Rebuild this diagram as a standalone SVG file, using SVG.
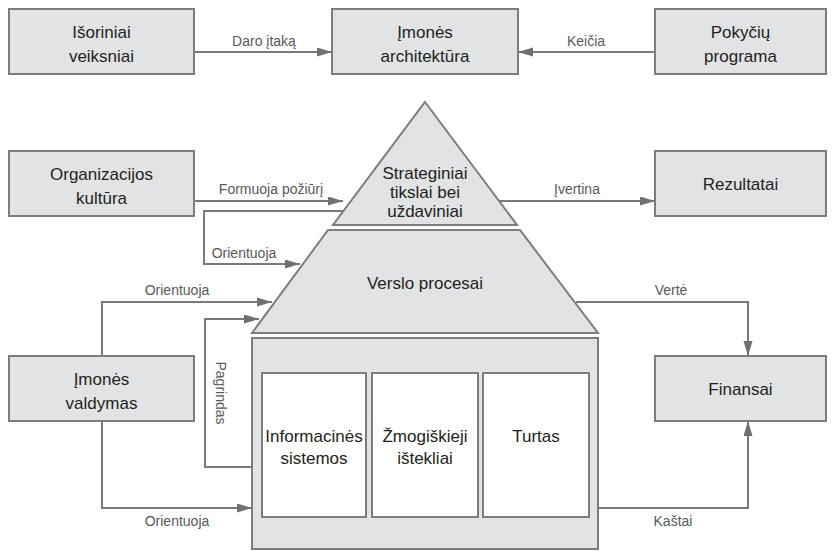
<svg xmlns="http://www.w3.org/2000/svg" width="835" height="551" viewBox="0 0 835 551">
  <style>
    .box { fill: #e2e3e5; stroke: #7d7d7d; stroke-width: 2; }
    .inner { fill: #ffffff; stroke: #7d7d7d; stroke-width: 2; }
    .t { font-family: "Liberation Sans", Arial, sans-serif; font-size: 17px; fill: #231f20; text-anchor: middle; }
    .lbl { font-family: "Liberation Sans", Arial, sans-serif; font-size: 14px; fill: #58595b; text-anchor: middle; }
    .edge { fill: none; stroke: #7a7a7a; stroke-width: 2; marker-end: url(#arrow); }
    .plain { fill: none; stroke: #7a7a7a; stroke-width: 2; }
  </style>
  <defs>
    <marker id="arrow" markerUnits="userSpaceOnUse" markerWidth="16" markerHeight="10" refX="15" refY="4.5" orient="auto">
      <path d="M0,0 L15,4.5 L0,9 z" fill="#6f6f6f"/>
    </marker>
  </defs>
  <rect width="835" height="551" fill="#ffffff"/>

  <!-- connectors -->
  <g id="connectors">
    <path class="edge" d="M194,52 H332"/>
    <path class="edge" d="M655,52 H518"/>
    <path class="edge" d="M194,201 H343"/>
    <path class="plain" d="M499,201 H560"/>
    <path class="edge" d="M560,201 H655"/>
    <path class="edge" d="M345,211 H204 V264 H300"/>
    <path class="edge" d="M102,356 V302 H272"/>
    <path class="edge" d="M252,467 H205 V319 H259"/>
    <path class="edge" d="M102,421 V508 H252"/>
    <path class="edge" d="M576,302 H748 V356"/>
    <path class="edge" d="M598,508 H748 V421"/>
  </g>

  <!-- connector labels -->
  <g id="labels">
    <text class="lbl" x="264" y="46">Daro įtaką</text>
    <text class="lbl" x="586" y="46">Keičia</text>
    <text class="lbl" x="271" y="194">Formuoja požiūrį</text>
    <text class="lbl" x="577" y="194">Įvertina</text>
    <text class="lbl" x="244" y="258">Orientuoja</text>
    <text class="lbl" x="177" y="295">Orientuoja</text>
    <text class="lbl" x="177" y="526">Orientuoja</text>
    <text class="lbl" x="671" y="295">Vertė</text>
    <text class="lbl" x="673" y="526">Kaštai</text>
    <text class="lbl" transform="translate(216,393) rotate(90)">Pagrindas</text>
  </g>

  <g id="isoriniai-veiksniai">
    <rect class="box" x="9" y="9" width="185" height="65"/>
    <text class="t" x="101.5" y="38">Išoriniai</text>
    <text class="t" x="101.5" y="62">veiksniai</text>
  </g>
  <g id="imones-architektura">
    <rect class="box" x="332" y="9" width="186" height="65"/>
    <text class="t" x="425" y="38">Įmonės</text>
    <text class="t" x="425" y="62">architektūra</text>
  </g>
  <g id="pokyciu-programa">
    <rect class="box" x="655" y="9" width="171" height="65"/>
    <text class="t" x="740.5" y="38">Pokyčių</text>
    <text class="t" x="740.5" y="62">programa</text>
  </g>
  <g id="organizacijos-kultura">
    <rect class="box" x="9" y="151" width="185" height="65"/>
    <text class="t" x="101.5" y="180">Organizacijos</text>
    <text class="t" x="101.5" y="204">kultūra</text>
  </g>
  <g id="rezultatai">
    <rect class="box" x="655" y="151" width="171" height="65"/>
    <text class="t" x="740.5" y="190">Rezultatai</text>
  </g>
  <g id="strateginiai-tikslai">
    <polygon class="box" points="425,102 517,225 333,225"/>
    <text class="t" x="425" y="179">Strateginiai</text>
    <text class="t" x="425" y="198">tikslai bei</text>
    <text class="t" x="425" y="217">uždaviniai</text>
  </g>
  <g id="verslo-procesai">
    <polygon class="box" points="328,230 520,230 598,333 252,333"/>
    <text class="t" x="425" y="289">Verslo procesai</text>
  </g>
  <g id="istekliai">
    <rect class="box" x="252" y="338" width="346" height="211"/>
  </g>
  <g id="informacines-sistemos">
    <rect class="inner" x="262" y="373" width="104" height="144"/>
    <text class="t" x="314" y="442">Informacinės</text>
    <text class="t" x="314" y="464">sistemos</text>
  </g>
  <g id="zmogiskieji-istekliai">
    <rect class="inner" x="372" y="373" width="106" height="144"/>
    <text class="t" x="425" y="442">Žmogiškieji</text>
    <text class="t" x="425" y="464">ištekliai</text>
  </g>
  <g id="turtas">
    <rect class="inner" x="483" y="373" width="106" height="144"/>
    <text class="t" x="536" y="442">Turtas</text>
  </g>
  <g id="imones-valdymas">
    <rect class="box" x="9" y="356" width="185" height="65"/>
    <text class="t" x="101.5" y="385">Įmonės</text>
    <text class="t" x="101.5" y="409">valdymas</text>
  </g>
  <g id="finansai">
    <rect class="box" x="655" y="356" width="171" height="65"/>
    <text class="t" x="740.5" y="395">Finansai</text>
  </g>
</svg>
